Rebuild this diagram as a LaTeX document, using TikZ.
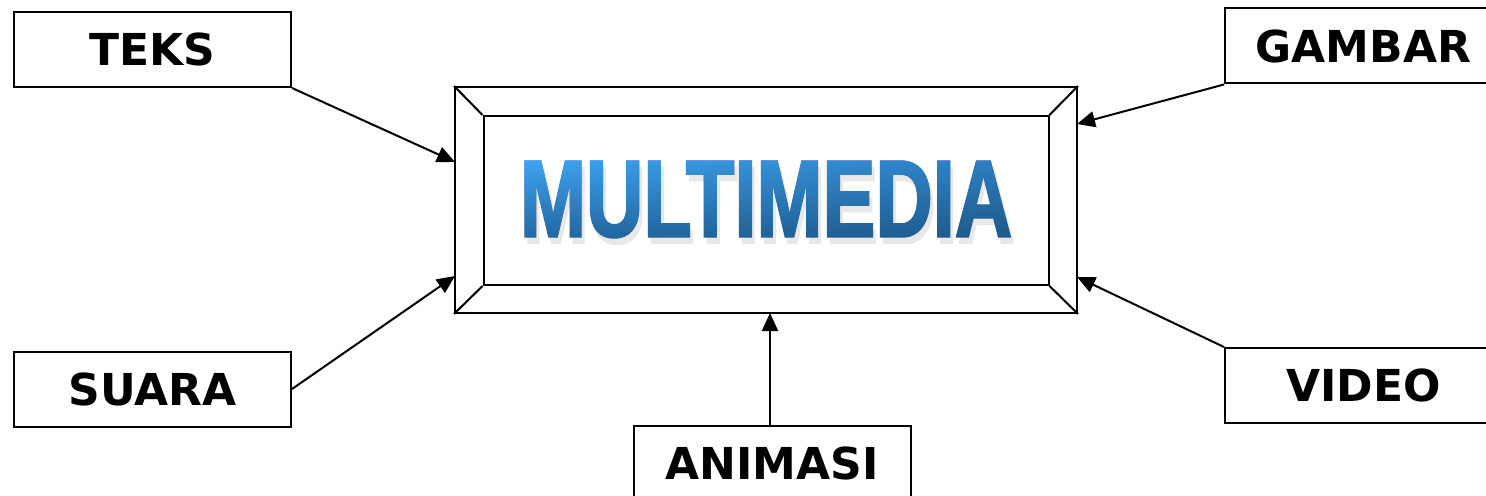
\documentclass[tikz,border=0pt]{standalone}
\usepackage{fontspec}
\setmainfont{DejaVu Sans}
\newfontfamily\bigfont{Liberation Sans}[BoldFeatures={FakeBold=2.2}]
\usetikzlibrary{arrows.meta,shadings}
\definecolor{mmUL}{HTML}{3DA6F0}
\definecolor{mmUR}{HTML}{2C7CBE}
\definecolor{mmLL}{HTML}{2366A2}
\definecolor{mmLR}{HTML}{1D5888}
\newcommand{\mmword}{\resizebox{246pt}{37.5pt}{\bigfont\bfseries MULTIMEDIA}}
\tikzset{
  lbl/.style={draw, line width=1pt, minimum width=138.5pt, minimum height=37.5pt,
    inner sep=0pt, font=\bfseries\fontsize{22}{24}\selectfont},
  conn/.style={line width=1pt, -{Triangle[length=9pt,width=8pt]}},
  frm/.style={draw, line width=1pt, inner sep=0pt},
  word/.style={inner sep=0pt}
}
\begin{document}
\begin{tikzpicture}[x=0.5pt,y=-0.5pt]
\clip (0,0) rectangle (1486,496);
\fill[white] (0,0) rectangle (1486,496);
% labels
\node[lbl] (teks) at (152.5,49.5) {TEKS};
\node[lbl] (suara) at (152.5,389) {SUARA};
\node[lbl] (gambar) at (1363.5,46) {GAMBAR};
\node[lbl] (video) at (1363.5,385.5) {VIDEO};
\node[lbl] (animasi) at (772,463.5) {ANIMASI};
% frame
\node[frm, minimum width=311pt, minimum height=113pt] (outer) at (766,200) {};
\node[frm, minimum width=282.5pt, minimum height=84.5pt] (inner) at (766,200.5) {};
\draw[line width=1pt] (outer.north west) -- (inner.north west)
  (outer.north east) -- (inner.north east)
  (outer.south west) -- (inner.south west)
  (outer.south east) -- (inner.south east);
% word: soft shadow, dark text, then gradient lightened onto it
\node[word, text=black!9] (mmshadow) at (769,206) {\mmword};
\node[word, text=mmLR] (mm) at (766,199.5) {\mmword};
\shade[blend mode=lighten, upper left=mmUL, upper right=mmUR,
  lower left=mmLL, lower right=mmLR] (516,160) rectangle (1016,240);
% tips
\coordinate (t1) at (455,162);
\coordinate (t2) at (455,276);
\coordinate (t3) at (1077,124);
\coordinate (t4) at (1077,277);
\coordinate (t5) at (770,313);
\draw[conn] (teks.south east) -- (t1);
\draw[conn] (suara.east) -- (t2);
\draw[conn] (gambar.south west) -- (t3);
\draw[conn] (video.north west) -- (t4);
\draw[conn] (animasi.north -| t5) -- (t5);
\end{tikzpicture}
\end{document}
